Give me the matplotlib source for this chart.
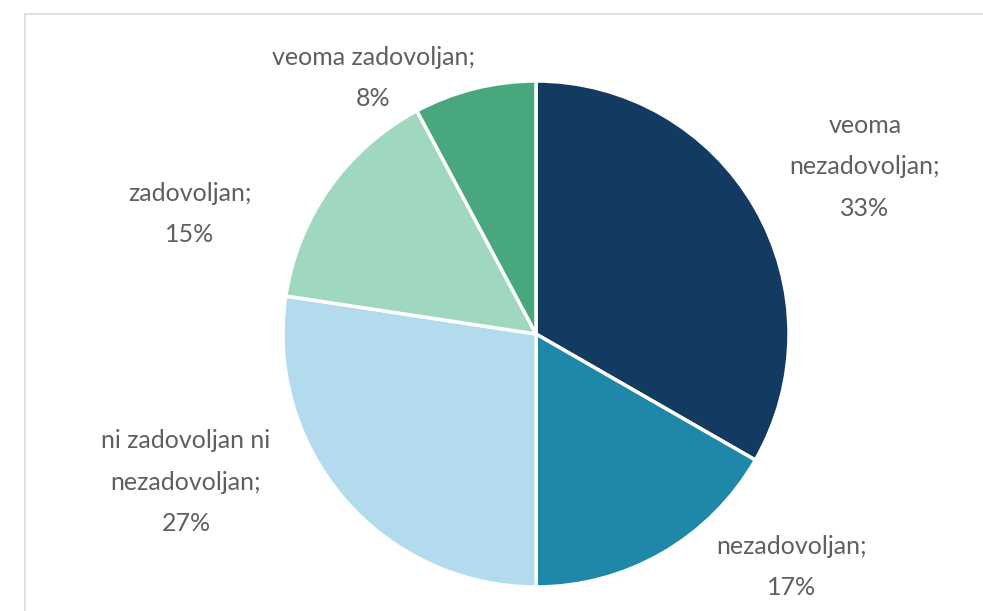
import matplotlib
matplotlib.use("Agg")
import matplotlib.pyplot as plt
from matplotlib.lines import Line2D

categories = ["veoma nezadovoljan", "nezadovoljan", "ni zadovoljan ni nezadovoljan", "zadovoljan", "veoma zadovoljan"]
values = [33.3, 16.7, 27.4, 14.8, 7.8]
label_texts = ["veoma\nnezadovoljan;\n33%", "nezadovoljan;\n17%", "ni zadovoljan ni\nnezadovoljan;\n27%", "zadovoljan;\n15%", "veoma zadovoljan;\n8%"]
colors = ["#133a60", "#1f87a7", "#b3dbee", "#a0d7bf", "#48a77c"]
label_pos = [(865, 167), (792, 567), (186, 482), (190, 214), (373, 78)]

W, H = 983, 611
fig = plt.figure(figsize=(W / 100, H / 100), dpi=100)
ax = fig.add_axes([0, 0, 1, 1])

ax.pie(values, colors=colors, startangle=90, counterclock=False,
       center=(536, H - 334), radius=253,
       wedgeprops=dict(edgecolor="white", linewidth=2.5))
ax.set_xlim(0, W)
ax.set_ylim(0, H)
ax.set_aspect("equal")
ax.axis("off")

for txt, (x, y) in zip(label_texts, label_pos):
    ax.text(x, H - y, txt, ha="center", va="center", fontsize=18,
            family="Lato", color="#5f5f5f", linespacing=1.95)

# frame lines (chart area border, cropped)
fig.add_artist(Line2D([25 / W, 1], [1 - 14 / H, 1 - 14 / H], color="#d9d9d9", lw=1.2, transform=fig.transFigure))
fig.add_artist(Line2D([25 / W, 25 / W], [0, 1 - 14 / H], color="#d9d9d9", lw=1.2, transform=fig.transFigure))

fig.savefig("out.png", dpi=100, facecolor="white")
